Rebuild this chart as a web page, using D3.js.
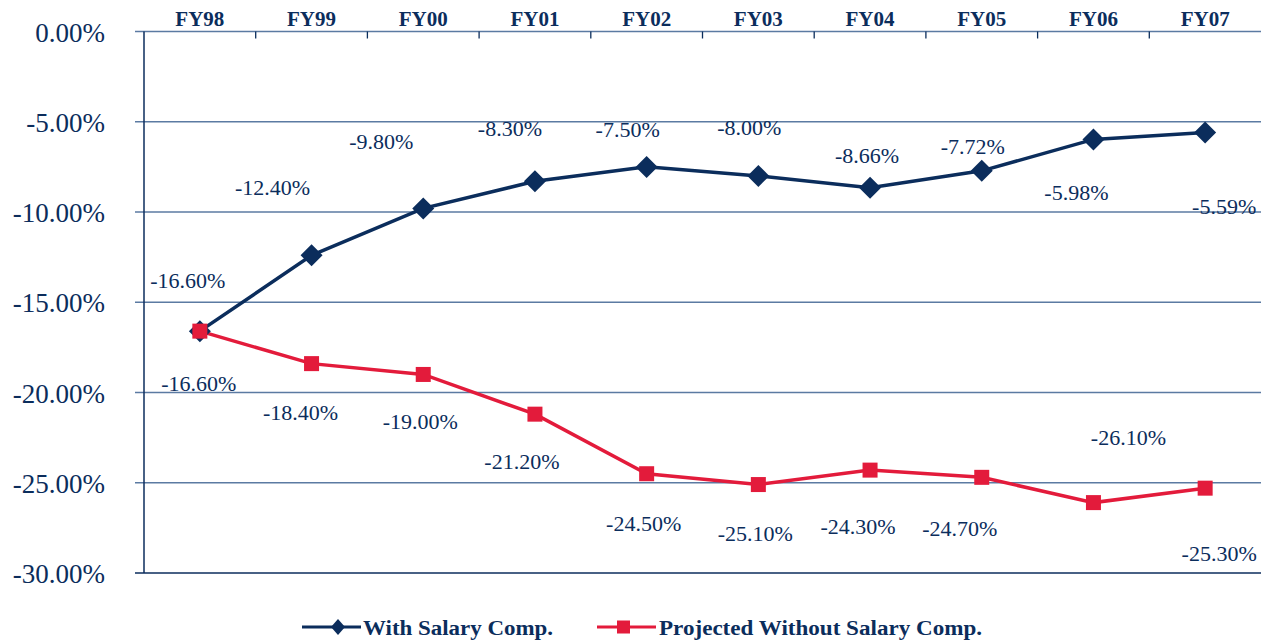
<!DOCTYPE html>
<html>
<head>
<meta charset="utf-8">
<script src="https://cdn.jsdelivr.net/npm/d3@7"></script>
<style>
  html, body { margin: 0; padding: 0; background: #fff; }
  svg { display: block; }
</style>
</head>
<body>
<svg id="chart" width="1270" height="641"></svg>
<script>
const categories = ["FY98","FY99","FY00","FY01","FY02","FY03","FY04","FY05","FY06","FY07"];
const withSalary = [-16.60, -12.40, -9.80, -8.30, -7.50, -8.00, -8.66, -7.72, -5.98, -5.59];
const withoutSalary = [-16.60, -18.40, -19.00, -21.20, -24.50, -25.10, -24.30, -24.70, -26.10, -25.30];
const yTicks = [0, -5, -10, -15, -20, -25, -30];
const seriesNames = ["With Salary Comp.", "Projected Without Salary Comp."];

// label placement offsets (layout only)
const withLabelOffsets = [[-12,-51],[-39,-68],[-42,-67],[-25,-53],[-19,-37],[-9,-48],[-3,-32],[-9,-24],[-17,53],[19,74]];
const withoutLabelOffsets = [[-1,52],[-11,49],[-3,47],[-13,47],[-3,50],[-3,49],[-12,56],[-22,51],[35,-65],[14,65]];

const NAVY = "#0b2d5c";
const RED = "#e31b3b";
const GRID = "#5b7aa2";
const TEXT = "#0b2d5c";
const SERIF = "'Liberation Serif','Times New Roman',serif";

const pct = v => (v < 0 ? "-" : "") + Math.abs(v).toFixed(2) + "%";

const svg = d3.select("#chart");
const plotLeft = 144, plotRight = 1261, plotTop = 31.5, plotBottom = 573;

const x = d3.scaleBand().domain(categories).range([plotLeft, plotRight]).padding(0);
const y = d3.scaleLinear().domain([0, -30]).range([plotTop, plotBottom]);
const cx = c => x(c) + x.bandwidth() / 2;

// gridlines
svg.append("g").selectAll("line").data(yTicks.filter(d => d !== -30)).join("line")
  .attr("x1", plotLeft - 9).attr("x2", plotRight)
  .attr("y1", d => y(d)).attr("y2", d => y(d))
  .attr("stroke", GRID).attr("stroke-width", 1.3);

// bottom line
svg.append("line").attr("x1", plotLeft - 9).attr("x2", plotRight)
  .attr("y1", y(-30)).attr("y2", y(-30))
  .attr("stroke", NAVY).attr("stroke-width", 1.5);

// y axis line
svg.append("line").attr("x1", plotLeft).attr("x2", plotLeft)
  .attr("y1", plotTop).attr("y2", plotBottom)
  .attr("stroke", NAVY).attr("stroke-width", 1.5);

// top category ticks
svg.append("g").selectAll("line").data(categories.slice(1)).join("line")
  .attr("x1", d => x(d)).attr("x2", d => x(d))
  .attr("y1", plotTop).attr("y2", plotTop + 7)
  .attr("stroke", NAVY).attr("stroke-width", 1.3);

// y labels
svg.append("g").selectAll("text").data(yTicks).join("text")
  .attr("x", 105).attr("y", d => y(d) + 1)
  .attr("text-anchor", "end").attr("dominant-baseline", "central")
  .attr("font-family", SERIF).attr("font-size", 27).attr("fill", TEXT)
  .text(pct);

// category labels
svg.append("g").selectAll("text").data(categories).join("text")
  .attr("x", d => cx(d)).attr("y", 19)
  .attr("text-anchor", "middle").attr("dominant-baseline", "central")
  .attr("font-family", SERIF).attr("font-weight", "bold").attr("font-size", 21).attr("fill", TEXT)
  .text(d => d);

const line = d3.line().x((d, i) => cx(categories[i])).y(d => y(d));

// red series
svg.append("path").datum(withoutSalary).attr("d", line)
  .attr("fill", "none").attr("stroke", RED).attr("stroke-width", 3.5);
// blue series
svg.append("path").datum(withSalary).attr("d", line)
  .attr("fill", "none").attr("stroke", NAVY).attr("stroke-width", 3.5);

// blue diamonds
svg.append("g").selectAll("path").data(withSalary).join("path")
  .attr("transform", (d, i) => `translate(${cx(categories[i])},${y(d)})`)
  .attr("d", "M0,-11L11,0L0,11L-11,0Z")
  .attr("fill", NAVY);

// red squares
svg.append("g").selectAll("rect").data(withoutSalary).join("rect")
  .attr("x", (d, i) => cx(categories[i]) - 7.5).attr("y", d => y(d) - 7.5)
  .attr("width", 15).attr("height", 15)
  .attr("fill", RED);

// data labels
function labels(data, offs) {
  svg.append("g").selectAll("text").data(data).join("text")
    .attr("x", (d, i) => cx(categories[i]) + offs[i][0])
    .attr("y", (d, i) => y(d) + offs[i][1])
    .attr("text-anchor", "middle").attr("dominant-baseline", "central")
    .attr("font-family", SERIF).attr("font-size", 22).attr("fill", TEXT)
    .text(pct);
}
labels(withSalary, withLabelOffsets);
labels(withoutSalary, withoutLabelOffsets);

// legend
const lg = svg.append("g");
const legendY = 627;
lg.append("line").attr("x1", 302).attr("x2", 361).attr("y1", legendY).attr("y2", legendY)
  .attr("stroke", NAVY).attr("stroke-width", 3);
lg.append("path").attr("transform", `translate(338,${legendY})`)
  .attr("d", "M0,-8L7,0L0,8L-7,0Z").attr("fill", NAVY);
lg.append("text").attr("x", 363).attr("y", legendY + 1)
  .attr("dominant-baseline", "central")
  .attr("font-family", SERIF).attr("font-weight", "bold").attr("font-size", 20).attr("fill", TEXT)
  .attr("textLength", 190).attr("lengthAdjust", "spacingAndGlyphs")
  .text(seriesNames[0]);
lg.append("line").attr("x1", 597).attr("x2", 656).attr("y1", legendY).attr("y2", legendY)
  .attr("stroke", RED).attr("stroke-width", 3);
lg.append("rect").attr("x", 617).attr("y", legendY - 6.5).attr("width", 13).attr("height", 13)
  .attr("fill", RED);
lg.append("text").attr("x", 659).attr("y", legendY + 1)
  .attr("dominant-baseline", "central")
  .attr("font-family", SERIF).attr("font-weight", "bold").attr("font-size", 20).attr("fill", TEXT)
  .attr("textLength", 323).attr("lengthAdjust", "spacingAndGlyphs")
  .text(seriesNames[1]);
</script>
</body>
</html>
